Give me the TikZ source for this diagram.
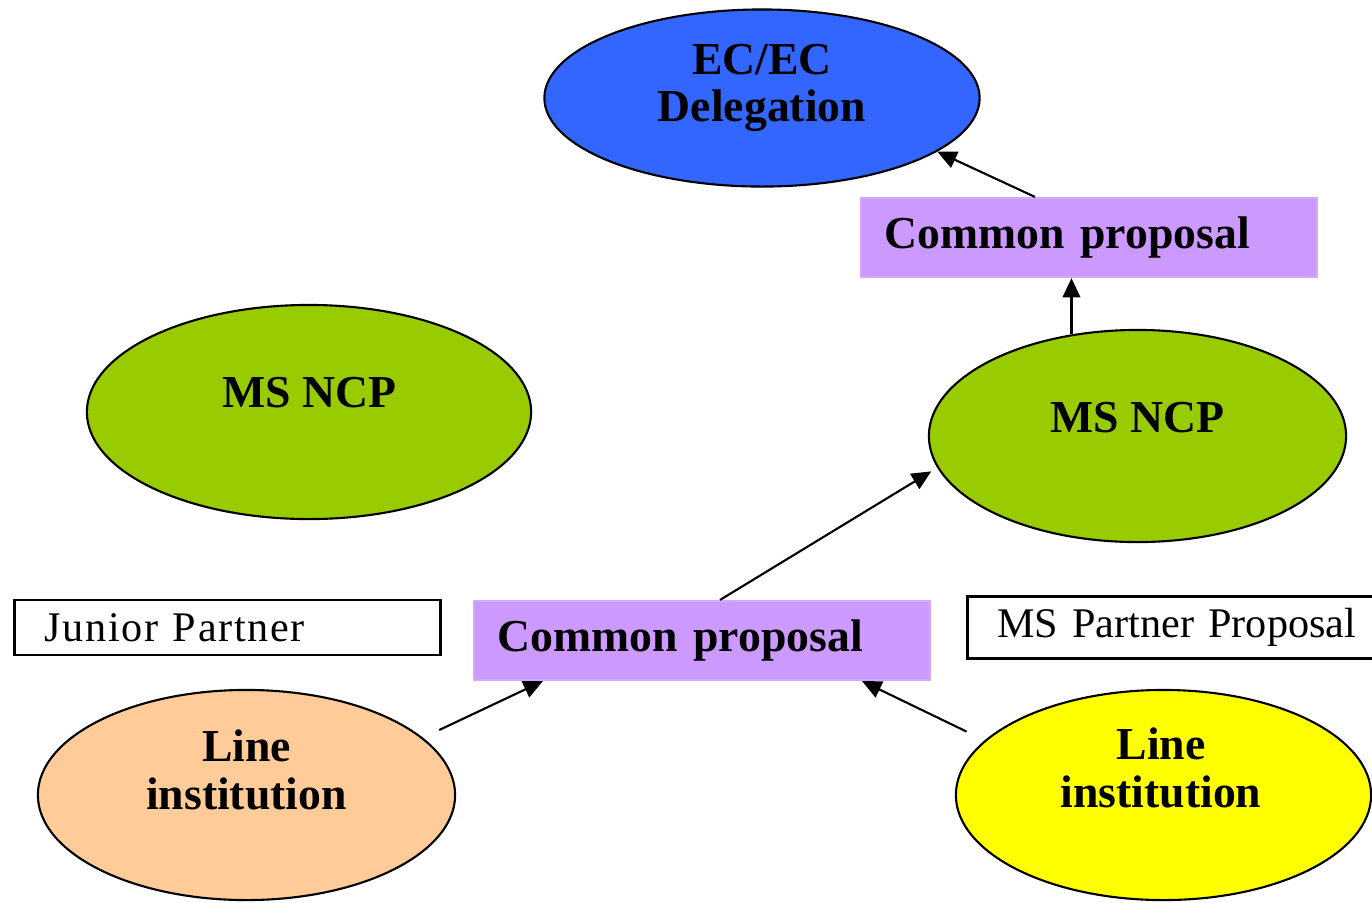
\documentclass[tikz,border=0pt]{standalone}
\usepackage{fontspec}
\setmainfont{Liberation Serif}
\usetikzlibrary{arrows.meta,positioning,shapes.geometric}
\definecolor{ecblue}{HTML}{3366FF}
\definecolor{proplilac}{HTML}{CC99FF}
\definecolor{ncpgreen}{HTML}{99CC00}
\definecolor{linepeach}{HTML}{FFCC99}
\definecolor{lineyellow}{HTML}{FFFF00}

\begin{document}
\begin{tikzpicture}[x=0.01cm, y=-0.01cm, ->, >={Triangle[length=5.5pt,width=5pt]},
    line width=0.6pt,
    blob/.style={ellipse, draw=black, inner sep=0pt},
    boldtxt/.style={font=\fontsize{13}{13.5}\selectfont\bfseries, align=center, inner sep=0pt},
    proposal/.style={rectangle, fill=proplilac, draw=proplilac!85!white, minimum height=0.79cm,
        text width=4.08cm, inner xsep=0.24cm, align=left, font=\fontsize{13}{13}\selectfont\bfseries},
    tagbox/.style={rectangle, draw=black, line width=0.8pt, minimum height=0.55cm, inner xsep=0.3cm,
        align=left, font=\fontsize{12}{13}\selectfont\addfontfeature{LetterSpace=4}}
    ]
\useasboundingbox (0,0) rectangle (1372,902);
% top
\node[blob, fill=ecblue, minimum width=4.35cm, minimum height=1.77cm] (ec) at (762,98) {};
\node[boldtxt] (ecT) at (762,88) {EC/EC\\Delegation};
\node[proposal] (cpTop) at (1089,237.5) {Common proposal};
% middle
\node[blob, fill=ncpgreen, minimum width=4.44cm, minimum height=2.14cm] (ncpL) at (309,412) {};
\node[boldtxt] (ncpLT) at (309,393) {MS NCP};
\node[blob, fill=ncpgreen, minimum width=4.17cm, minimum height=2.12cm] (ncpR) at (1137.5,436) {};
\node[boldtxt] (ncpRT) at (1137,418) {MS NCP};
% bottom
\node[tagbox, text width=3.65cm] (junior) at (227.5,627.5) {Junior Partner};
\node[proposal] (cpMid) at (702,640.5) {Common proposal};
\node[tagbox, text width=4cm, anchor=west, font=\fontsize{12}{13}\selectfont]
    (msprop) at (966,627.5) {MS Partner Proposal};
\node[blob, fill=linepeach, minimum width=4.17cm, minimum height=2.1cm] (liL) at (246.5,795) {};
\node[boldtxt] (liLT) at (246.5,770) {Line\\institution};
\node[blob, fill=lineyellow, minimum width=4.15cm, minimum height=2.1cm] (liR) at (1163.5,795) {};
\node[boldtxt] (liRT) at (1161,768) {Line\\institution};

\draw ([xshift=-0.54cm]cpTop.north) -- (ec.-17);
\draw (ncpR.123) -- (ncpR.123 |- cpTop.south);
\draw[shorten >=2pt] ([xshift=0.18cm]cpMid.north) -- (ncpR.189);
\draw[shorten <=0.18cm] (liL.18) -- ([xshift=-1.59cm]cpMid.south);
\draw[shorten <=0.2cm] (liR.163) -- ([xshift=1.6cm]cpMid.south);
\end{tikzpicture}
\end{document}
